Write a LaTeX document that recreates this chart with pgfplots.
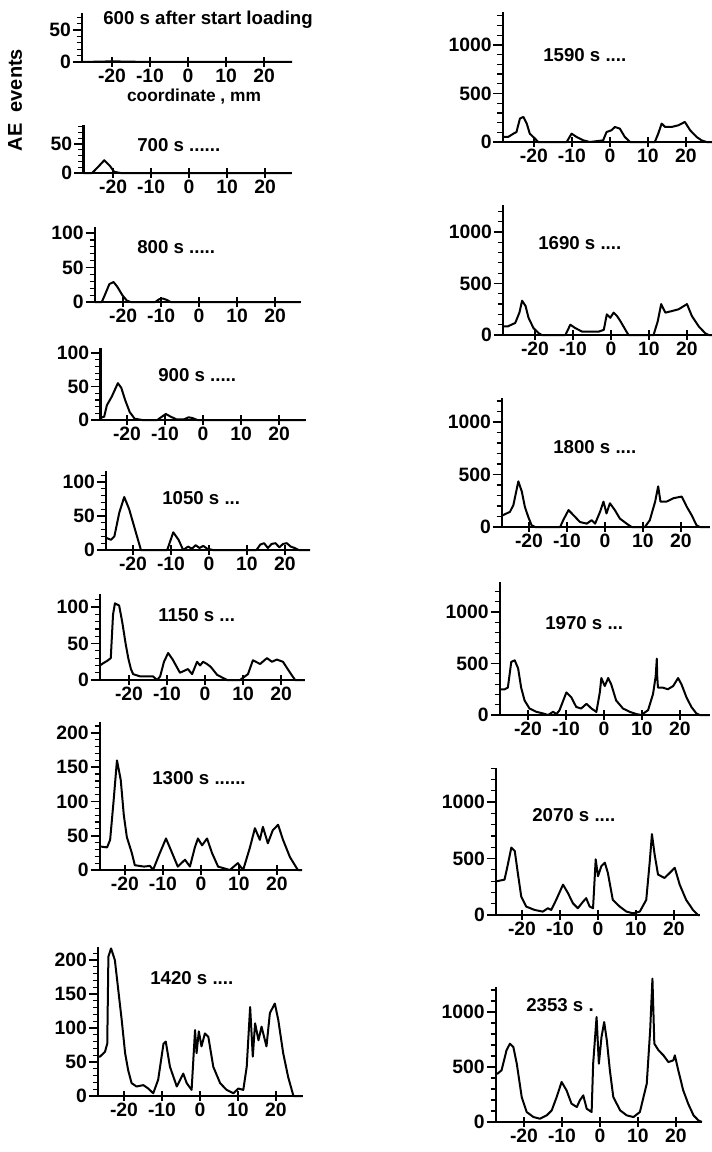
\documentclass[border=0pt]{standalone}
\usepackage{pgfplots}
\pgfplotsset{compat=1.18}
\usepackage{fontspec}
\setmainfont{Liberation Sans}
\pgfplotsset{
  panel/.style={
    anchor=south west,
    axis x line=bottom, axis y line=left,
    axis line style={-, line width=1.9pt},
    ymin=0, clip=false,
    xtick={-20,-10,0,10,20}, xticklabels={-20,-10,0,10,20},
    xtick align=center, ytick align=outside,
    major tick length=7pt, minor tick length=4pt,
    every tick/.style={black, line width=1.4pt},
    minor tick style={line width=0.9pt},
    tick label style={font=\bfseries\fontsize{14.5}{15}\selectfont, inner sep=1.2pt},
    xticklabel style={yshift=-0.5pt},
    /pgf/number format/assume math mode=true,
    /pgf/number format/1000 sep={},
  },
  lcol/.style={panel, ytick={0,50,100,150,200}},
  rcol/.style={panel, ytick={0,500,1000}, minor ytick={100,200,300,400,600,700,800,900,1100,1200,1300}},
  curve/.style={black, line width=1.5pt, line join=round, mark=none},
}
\begin{document}
\begin{tikzpicture}
\path[use as bounding box] (0,0) rectangle (534pt,-864pt);
% ---------- left column ----------
\begin{axis}[lcol, at={(61.5pt,-46.5pt)}, x=2.85pt, y=0.48pt, xmin=-27.9, xmax=27.4, ymax=76, minor ytick={10,20,30,40,60,70}]
\addplot[curve] coordinates {(-27.9,0) (-20,1) (-10,0) (27.4,0)};
\end{axis}
\begin{axis}[lcol, at={(62.55pt,-129.75pt)}, x=2.85pt, y=0.435pt, xmin=-27.8, xmax=27, ymax=82, minor ytick={10,20,30,40,60,70,80}]
\addplot[curve] coordinates {(-27.8,0) (-25.5,0) (-24,10) (-22.3,22) (-20.8,12) (-19.7,2) (-18,0) (27,0)};
\end{axis}
\begin{axis}[lcol, at={(71.2pt,-226.5pt)}, x=2.85pt, y=0.5175pt, xmin=-27.4, xmax=26.7, ymax=108, minor ytick={10,20,30,40,60,70,80,90}]
\addplot[curve] coordinates {(-27.4,0) (-25.6,0) (-24.8,10) (-23.6,26) (-22.5,29) (-21.5,22) (-20.2,10) (-19,2) (-18,0) (-11.5,0) (-10.5,4) (-9.5,5) (-8.5,3) (-7.5,0) (26.7,0)};
\end{axis}
\begin{axis}[lcol, at={(75.3pt,-315pt)}, x=2.85pt, y=0.5025pt, xmin=-27, xmax=27, ymax=107, minor ytick={10,20,30,40,60,70,80,90}]
\addplot[curve] coordinates {(-27,3) (-26,5) (-25.3,22) (-24,35) (-22.4,55) (-21.5,48) (-20.5,30) (-19.3,12) (-18,2) (-16,0) (-12,0) (-11.3,3) (-9.8,9) (-8.5,5) (-7,1) (-5,1) (-3.8,4) (-2.8,3) (-1.5,0) (27,0)};
\end{axis}
\begin{axis}[lcol, at={(79.5pt,-412.5pt)}, x=2.85pt, y=0.51pt, xmin=-27.1, xmax=26.6, ymax=116, minor ytick={10,20,30,40,60,70,80,90,110}]
\addplot[curve] coordinates {(-27.1,18) (-25.8,15) (-24.9,20) (-23.6,55) (-22.3,78) (-21,60) (-19.2,25) (-17.9,0) (-11,0) (-9.4,26) (-8,15) (-6.8,0) (-5.5,5) (-4.5,2) (-3.5,7) (-2.5,3) (-1.5,6) (-0.5,2) (1,0) (12.5,0) (13.5,8) (14.5,10) (15.5,3) (16.5,9) (17.5,10) (18.5,4) (19.5,9) (20.5,10) (21.5,5) (22.5,3) (23.6,0) (26.6,0)};
\end{axis}
\begin{axis}[lcol, at={(75.1pt,-510pt)}, x=2.85pt, y=0.5475pt, xmin=-27.6, xmax=26.3, ymax=118, minor ytick={10,20,30,40,60,70,80,90,110}]
\addplot[curve] coordinates {(-27.6,20) (-26.8,23) (-25.8,26) (-24.8,30) (-24.2,90) (-23.7,105) (-22.6,102) (-21.8,80) (-20.9,50) (-20.2,30) (-19.5,15) (-18.9,8) (-17.1,5) (-13.7,5) (-12.6,0) (-11.8,5) (-10.8,25) (-9.7,37) (-8.5,28) (-6.6,10) (-5.3,13) (-4.5,15) (-3.4,8) (-2.1,25) (-1.3,20) (-0.5,25) (0.5,22) (1.5,18) (3.2,7) (5.8,0) (9.2,0) (11.3,8) (12.6,27) (14.5,22) (16.3,30) (17.6,25) (18.9,28) (20.5,25) (22.4,10) (23.7,0) (26.3,0)};
\end{axis}
\begin{axis}[lcol, at={(74.9pt,-652.5pt)}, x=2.85pt, y=0.514pt, xmin=-26.6, xmax=26.6, ymax=216, minor ytick={10,20,30,40,60,70,80,90,110,120,130,140,160,170,180,190,210}]
\addplot[curve] coordinates {(-26.6,34) (-26.1,34) (-24.7,33) (-23.9,44) (-23,100) (-22.1,160) (-21.4,140) (-21.1,131) (-20.3,80) (-19.5,48) (-18.2,25) (-17.4,7) (-15,5) (-13.4,6) (-12.6,0) (-10.8,25) (-9.2,46) (-7.6,25) (-6.1,5) (-4.2,15) (-2.9,5) (-1.6,33) (-0.8,46) (0.3,36) (1.6,46) (2.9,25) (4.5,5) (7.6,0) (9.7,10) (11.1,0) (12.9,33) (14.2,61) (15.5,44) (16.3,63) (17.6,39) (18.9,58) (20.3,66) (21.6,44) (23.4,19) (25.5,0) (26.6,0)};
\end{axis}
\begin{axis}[lcol, at={(73.6pt,-822pt)}, x=2.85pt, y=0.51pt, xmin=-26.8, xmax=27, ymax=219, minor ytick={10,20,30,40,60,70,80,90,110,120,130,140,160,170,180,190,210}]
\addplot[curve] coordinates {(-26.8,58) (-26.3,58) (-25,65) (-24.4,77) (-24.1,205) (-23.4,217) (-22.4,200) (-21.5,156) (-20.6,112) (-19.7,63) (-18.9,38) (-18,19) (-16.7,14) (-14.9,16) (-13.6,11) (-12.3,4) (-11,24) (-9.6,77) (-9,80) (-7.9,43) (-6.1,14) (-4.4,33) (-3.5,19) (-2.2,9) (-1.3,97) (-0.9,63) (-0.3,95) (0.4,73) (1.3,92) (2.2,87) (3.5,43) (5.3,19) (7,9) (8.8,4) (10.1,11) (11.4,9) (12.3,43) (13.2,131) (13.9,58) (14.5,107) (15.4,82) (16.2,102) (17.5,73) (18.4,122) (19.7,136) (20.6,112) (21.9,63) (23.2,28) (24.6,0) (27,0)};
\end{axis}
% ---------- right column ----------
\begin{axis}[rcol, at={(377.1pt,-106.5pt)}, x=2.85pt, y=0.07275pt, xmin=-28.2, xmax=26.8, ymax=1340]
\addplot[curve] coordinates {(-28.2,52) (-26.8,52) (-25.4,86) (-24.6,103) (-23.7,241) (-22.8,259) (-21.9,190) (-21.1,86) (-19.7,34) (-18.9,0) (-11.4,0) (-10.1,86) (-8.8,52) (-7,17) (-5.3,0) (-1.8,17) (-0.9,103) (0.4,121) (1.3,155) (2.6,138) (3.9,52) (5.3,0) (11.8,0) (12.7,86) (13.6,190) (14.5,155) (16.2,155) (18,172) (19.7,207) (21.1,121) (22.8,52) (24.1,17) (25.4,0) (26.8,0)};
\end{axis}
\begin{axis}[rcol, at={(377.3pt,-251.25pt)}, x=2.85pt, y=0.07725pt, xmin=-28.4, xmax=26.6, ymax=1260]
\addplot[curve] coordinates {(-28.4,83) (-27.2,83) (-25.2,117) (-24.1,217) (-23.4,333) (-22.5,283) (-21.7,167) (-20.4,67) (-19,17) (-18.2,0) (-12,0) (-10.7,100) (-9.4,67) (-7.6,33) (-5.4,33) (-3.2,33) (-1.9,50) (-1.1,200) (-0.2,167) (0.7,217) (1.6,183) (2.5,133) (3.8,50) (4.6,0) (11.2,0) (12.3,133) (13.2,300) (14.3,217) (16.1,233) (17.8,250) (20,300) (21.3,183) (23.1,83) (24.8,17) (25.7,0) (26.6,0)};
\end{axis}
\begin{axis}[rcol, at={(376.5pt,-395.25pt)}, x=2.85pt, y=0.07875pt, xmin=-27.1, xmax=27.6, ymax=1230]
\addplot[curve] coordinates {(-27.1,113) (-26.8,113) (-25,145) (-24.1,210) (-22.8,435) (-21.9,339) (-21.1,194) (-20.2,97) (-19.3,16) (-18.4,0) (-11.8,0) (-11,65) (-9.6,161) (-8.3,113) (-6.6,48) (-4.8,32) (-3.5,65) (-2.6,32) (-1.3,145) (-0.4,242) (0.4,129) (1.3,226) (2.6,161) (3.9,81) (5.7,32) (7,0) (10.5,0) (11.8,65) (13.2,242) (14,387) (14.6,242) (16.2,242) (18,274) (20.2,290) (21.5,194) (22.8,113) (24.1,16) (25,0) (27.6,0)};
\end{axis}
\begin{axis}[rcol, at={(374.9pt,-536.25pt)}, x=2.85pt, y=0.07725pt, xmin=-27.4, xmax=27.8, ymax=1290]
\addplot[curve] coordinates {(-27.4,250) (-26.1,250) (-25.3,266) (-24.4,516) (-23.5,531) (-22.6,453) (-21.8,266) (-20.9,141) (-19.6,63) (-17.8,31) (-16.1,16) (-14.7,0) (-13.4,31) (-12.5,9) (-11.7,47) (-9.9,219) (-8.6,172) (-7.3,78) (-6,63) (-4.6,109) (-3.3,63) (-2,30) (-1.1,219) (-0.7,359) (0.2,281) (1.1,359) (1.9,297) (3.2,141) (5,63) (6.8,31) (8.5,9) (9.8,0) (11.6,47) (12.9,203) (13.6,375) (13.9,547) (14.0,380) (14.2,266) (15.5,266) (16.8,250) (18.2,281) (19.5,359) (20.4,297) (21.7,172) (23,78) (24.3,16) (25.2,0) (27.8,0)};
\end{axis}
\begin{axis}[rcol, at={(372.1pt,-686.25pt)}, x=2.85pt, y=0.08475pt, xmin=-26.8, xmax=26.8, ymax=1300]
\addplot[curve] coordinates {(-26.8,299) (-26.6,299) (-24.6,313) (-23.9,418) (-22.8,597) (-21.9,567) (-21.1,373) (-20.2,164) (-18.9,75) (-16.7,45) (-14.5,30) (-13.2,60) (-12.3,45) (-11,134) (-9.2,269) (-7.9,194) (-6.6,104) (-5.3,60) (-3.9,119) (-3.1,149) (-2.2,75) (-1.3,60) (-0.6,493) (0,343) (0.9,433) (1.8,463) (2.6,373) (3.9,134) (5.7,75) (7.5,30) (9.2,15) (11,30) (12.7,134) (13.6,463) (14.2,716) (14.9,537) (15.8,358) (17.5,328) (18.9,373) (20.2,418) (21.5,269) (23.2,134) (25,45) (26.3,0) (26.8,0)};
\end{axis}
\begin{axis}[rcol, at={(371.9pt,-841.5pt)}, x=2.85pt, y=0.0825pt, xmin=-27.4, xmax=26.8, ymax=1230]
\addplot[curve] coordinates {(-27.4,439) (-27,439) (-25.9,470) (-24.6,652) (-23.7,712) (-22.8,682) (-21.9,530) (-20.6,227) (-19.3,91) (-17.5,45) (-15.8,30) (-14,61) (-12.7,106) (-11.4,227) (-10.1,364) (-8.8,288) (-7.5,167) (-6.1,136) (-5.3,197) (-4.4,242) (-3.5,121) (-2.2,91) (-1.8,530) (-0.9,955) (-0.3,530) (0.4,773) (1.1,909) (1.8,742) (2.6,470) (3.5,227) (5.3,106) (7,61) (8.8,45) (10.5,91) (12.3,348) (13.2,833) (13.8,1303) (14.3,712) (15.4,652) (16.7,606) (18,545) (19.3,561) (19.7,606) (20.6,470) (21.9,288) (23.2,167) (24.6,61) (25.9,15) (26.8,0)};
\end{axis}
% ---------- titles and labels ----------
\begin{scope}[every node/.style={anchor=west, inner sep=0pt, font=\bfseries\fontsize{14}{15}\selectfont}]
\node at (77.25pt,-15pt) {600 s after start  loading};
\node at (102.75pt,-108.75pt) {700 s ......};
\node at (102.75pt,-185.25pt) {800 s .....};
\node at (118.5pt,-281.25pt) {900 s .....};
\node at (121.5pt,-373.5pt) {1050 s ...};
\node at (118.5pt,-461.25pt) {1150 s ...};
\node at (114pt,-583.5pt) {1300 s ......};
\node at (112.5pt,-733.5pt) {1420 s ....};
\node at (407.25pt,-41.25pt) {1590 s ....};
\node at (403.5pt,-182.25pt) {1690 s ....};
\node at (414.75pt,-335.25pt) {1800 s ....};
\node at (408.75pt,-467.25pt) {1970 s ...};
\node at (399pt,-611.25pt) {2070 s ....};
\node at (394.5pt,-753.75pt) {2353 s .};
\end{scope}
\node[rotate=90, inner sep=0pt, font=\bfseries\fontsize{15}{16}\selectfont] at (11.25pt,-75pt) {AE\ \ events};
\node[inner sep=0pt, font=\bfseries\fontsize{13}{14}\selectfont] at (145.5pt,-72.75pt) {coordinate , mm};
\end{tikzpicture}
\end{document}
